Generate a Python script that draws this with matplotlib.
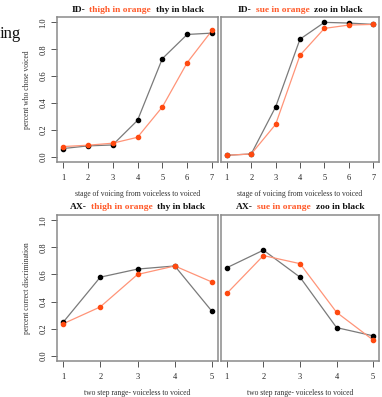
import matplotlib
matplotlib.use("Agg")
import matplotlib.pyplot as plt

# ---- data ----
id_x = [1, 2, 3, 4, 5, 6, 7]
id_thy = [0.06, 0.08, 0.087, 0.27, 0.73, 0.91, 0.92]
id_thigh = [0.075, 0.085, 0.10, 0.144, 0.37, 0.70, 0.94]
id_zoo = [0.01, 0.02, 0.37, 0.875, 1.0, 0.995, 0.985]
id_sue = [0.01, 0.02, 0.24, 0.755, 0.955, 0.98, 0.985]

ax_x = [1, 2, 3, 4, 5]
ax_thy = [0.245, 0.58, 0.64, 0.663, 0.327]
ax_thigh = [0.235, 0.36, 0.60, 0.663, 0.544]
ax_zoo = [0.65, 0.78, 0.58, 0.207, 0.146]
ax_sue = [0.46, 0.74, 0.68, 0.32, 0.115]

yticks = [0.0, 0.2, 0.4, 0.6, 0.8, 1.0]
ytick_labels = ["0.0", "0.2", "0.4", "0.6", "0.8", "1.0"]

titles = [
    [("ID-", "k"), ("thigh in orange", "orange"), ("thy in black", "k")],
    [("ID-", "k"), ("sue in orange", "orange"), ("zoo in black", "k")],
    [("AX-", "k"), ("thigh in orange", "orange"), ("thy in black", "k")],
    [("AX-", "k"), ("sue in orange", "orange"), ("zoo in black", "k")],
]
xlabels = ["stage of voicing from voiceless to voiced",
           "stage of voicing from voiceless to voiced",
           "two step range- voiceless to voiced",
           "two step range- voiceless to voiced"]
ylabels = ["percent who chose voiced", "percent correct discrimination"]

# ---- style ----
SERIF = ["Liberation Serif", "DejaVu Serif"]
plt.rcParams["font.family"] = SERIF
BLACK_LINE = "#7a7a7a"
BLACK_MK = "#000000"
OR_LINE = "#ff9478"
OR_MK = "#ff4a10"
TITLE_OR = "#ff5a2a"

W, H = 382, 397
fig = plt.figure(figsize=(W / 100, H / 100), dpi=100)

def rect(l, t, r, b):
    return [l / W, 1 - b / H, (r - l) / W, (b - t) / H]

axes_rects = [rect(57, 17, 218, 162), rect(221, 17, 379, 162),
              rect(57, 215, 218, 361), rect(221, 215, 379, 361)]
series = [(id_x, id_thy, id_thigh), (id_x, id_zoo, id_sue),
          (ax_x, ax_thy, ax_thigh), (ax_x, ax_zoo, ax_sue)]

axs = []
for i, (r, (xs, kb, ko)) in enumerate(zip(axes_rects, series)):
    ax = fig.add_axes(r)
    axs.append(ax)
    ax.plot(xs, kb, color=BLACK_LINE, lw=0.9, zorder=2)
    ax.plot(xs, ko, color=OR_LINE, lw=0.9, zorder=2)
    ax.plot(xs, kb, ls="none", marker="o", ms=3.0, color=BLACK_MK, zorder=3)
    ax.plot(xs, ko, ls="none", marker="o", ms=3.0, color=OR_MK, zorder=4)
    n = len(xs)
    pad = (n - 1) * 0.04
    ax.set_xlim(1 - pad, n + pad)
    ax.set_ylim(-0.04, 1.04)
    ax.set_xticks(xs)
    ax.set_xticklabels([str(v) for v in xs])
    for s in ax.spines.values():
        s.set_color("#8a8a8a")
        s.set_linewidth(1.1)
    ax.tick_params(axis="both", direction="out", length=4, width=0.7,
                   color="#555555", labelsize=6, labelcolor="#222222", pad=3)
    ax.tick_params(axis="x", pad=4.5)
    if i % 2 == 0:
        ax.set_yticks(yticks)
        ax.set_yticklabels(ytick_labels, rotation=90, va="center")
        ax.set_ylabel(ylabels[i // 2], fontsize=5.5, color="#333333", labelpad=6)
    else:
        ax.set_yticks([])
    ax.set_xlabel(xlabels[i], fontsize=5.5, color="#333333", labelpad=6)

# multi-colour titles
fig.canvas.draw()
renderer = fig.canvas.get_renderer()
title_y_px = [10, 10, 207, 207]
gap = 4.5
for ax, parts, ypx in zip(axs, titles, title_y_px):
    objs = []
    for s, c in parts:
        col = TITLE_OR if c == "orange" else "#111111"
        t = fig.text(0, 1 - ypx / H, s, color=col, fontsize=6.8, fontweight="bold",
                     va="center", ha="left")
        objs.append(t)
    widths = [t.get_window_extent(renderer).width for t in objs]
    total = sum(widths) + gap * (len(objs) - 1)
    bb = ax.get_window_extent(renderer)
    x = (bb.x0 + bb.x1) / 2 - total / 2
    for t, w in zip(objs, widths):
        t.set_x(x / W)
        x += w + gap

# stray text from the page
fig.text(0.0, 1 - 38 / H, "ing", fontsize=12, color="#111111", va="baseline", ha="left")

fig.savefig("out.png", dpi=100)
